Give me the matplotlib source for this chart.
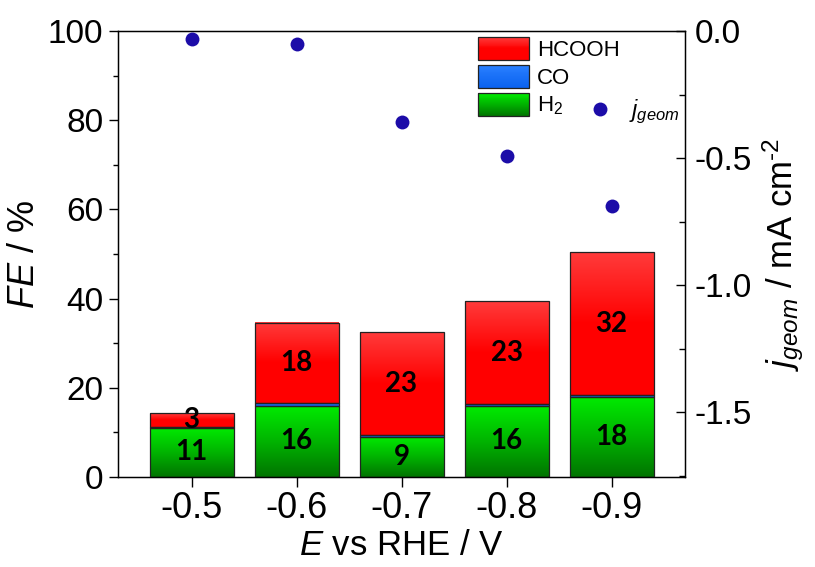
import numpy as np
import matplotlib
matplotlib.use('Agg')
import matplotlib.pyplot as plt
from matplotlib.patches import Rectangle
from matplotlib.lines import Line2D
from matplotlib.legend_handler import HandlerBase
from matplotlib.colors import LinearSegmentedColormap
from matplotlib.ticker import MultipleLocator

# ---------------- data ----------------
potentials = ['-0.5', '-0.6', '-0.7', '-0.8', '-0.9']
fe_h2 = [11, 16, 9, 16, 18]
fe_co = [0.3, 0.6, 0.4, 0.4, 0.4]
fe_hcooh = [3.1, 18, 23, 23, 32]
label_h2 = ['11', '16', '9', '16', '18']
label_hcooh = ['3', '18', '23', '23', '32']
j_geom = [-0.03, -0.05, -0.36, -0.49, -0.69]

# ---------------- style ----------------
plt.rcParams['font.family'] = ['Liberation Sans', 'DejaVu Sans']
plt.rcParams['mathtext.fontset'] = 'custom'
plt.rcParams['mathtext.rm'] = 'Liberation Sans'
plt.rcParams['mathtext.it'] = 'Liberation Sans:italic'
plt.rcParams['mathtext.bf'] = 'Liberation Sans:bold'
plt.rcParams['axes.unicode_minus'] = False

red_cmap = LinearSegmentedColormap.from_list('red', ['#ff0000', '#ff0000', '#ff3b3b'])
green_cmap = LinearSegmentedColormap.from_list('green', ['#007400', '#00b400', '#00ec00'])
blue_cmap = LinearSegmentedColormap.from_list('blue', ['#0a62f0', '#2a80ff'])
edge = '#222222'

fig = plt.figure(figsize=(8.15, 5.67), dpi=100)
ax = fig.add_axes([118 / 815, 1 - 477 / 567, (685 - 118) / 815, (477 - 31) / 567])
x = np.arange(len(potentials))
w = 0.8

bottom_co = np.array(fe_h2, dtype=float)
bottom_hc = bottom_co + np.array(fe_co)

bars_h2 = ax.bar(x, fe_h2, w, facecolor='none', edgecolor=edge, linewidth=0.9, zorder=3)
bars_co = ax.bar(x, fe_co, w, bottom=bottom_co, facecolor='none', edgecolor=edge, linewidth=0.9, zorder=3)
bars_hc = ax.bar(x, fe_hcooh, w, bottom=bottom_hc, facecolor='none', edgecolor=edge, linewidth=0.9, zorder=3)

grad = np.linspace(0, 1, 256).reshape(-1, 1)


def grad_fill(patch, cmap):
    x0, y0 = patch.get_x(), patch.get_y()
    pw, ph = patch.get_width(), patch.get_height()
    ax.imshow(grad, cmap=cmap, origin='lower', aspect='auto',
              extent=[x0, x0 + pw, y0, y0 + ph], zorder=2, interpolation='bilinear')


for p in bars_h2:
    grad_fill(p, green_cmap)
for p in bars_co:
    grad_fill(p, blue_cmap)
for p in bars_hc:
    grad_fill(p, red_cmap)

lab_font = dict(family=['Lato', 'DejaVu Sans'], fontweight='bold', fontsize=20, color='black')
for xi, b, h, t in zip(x, [0] * len(x), fe_h2, label_h2):
    ax.text(xi, b + h / 2, t, ha='center', va='center', zorder=4, **lab_font)
for xi, b, h, t in zip(x, bottom_hc, fe_hcooh, label_hcooh):
    ax.text(xi, b + h / 2, t, ha='center', va='center', zorder=4, **lab_font)

ax.set_xlim(-0.7, 4.7)
ax.set_ylim(0, 100)
ax.set_xticks(x)
ax.set_xticklabels(potentials)
ax.yaxis.set_major_locator(MultipleLocator(20))
ax.yaxis.set_minor_locator(MultipleLocator(10))
ax.tick_params(axis='x', direction='out', length=7, width=1, labelsize=26, pad=3)
ax.tick_params(axis='y', which='major', direction='out', length=6.5, width=1, labelsize=24, pad=4)
ax.tick_params(axis='y', which='minor', direction='out', length=3.5, width=1)
for s in ax.spines.values():
    s.set_linewidth(1.0)

ax.set_xlabel(r'$E$ vs RHE / V', fontsize=25, labelpad=2)
ax.set_ylabel(r'$FE$ / %', fontsize=26, labelpad=4)

# ---------------- right axis ----------------
ax2 = ax.twinx()
ax2.plot(x, j_geom, 'o', ms=10, color='#1c0ca8', markeredgewidth=0, zorder=5)
ax2.set_ylim(-1.755, 0)
ax2.yaxis.set_major_locator(MultipleLocator(0.5))
ax2.yaxis.set_minor_locator(MultipleLocator(0.25))
ax2.tick_params(axis='y', which='major', direction='in', length=6.5, width=1, labelsize=24, pad=7)
ax2.tick_params(axis='y', which='minor', direction='in', length=4, width=1)
ax2.set_ylabel(r'$j_{geom}$ / mA cm$^{\text{-}2}$', fontsize=25, labelpad=6)


# ---------------- legends ----------------
class GradientHandler(HandlerBase):
    def __init__(self, cmap):
        super().__init__()
        self.cmap = cmap

    def create_artists(self, legend, orig_handle, xdescent, ydescent, width, height, fontsize, trans):
        n = 24
        arts = []
        for i in range(n):
            f = (i + 0.5) / n
            r = Rectangle((-xdescent, -ydescent + i * height / n), width, height / n * 1.05,
                          facecolor=self.cmap(f), edgecolor='none', transform=trans)
            arts.append(r)
        arts.append(Rectangle((-xdescent, -ydescent), width, height, facecolor='none',
                              edgecolor=edge, linewidth=0.9, transform=trans))
        return arts


h_hc = Rectangle((0, 0), 1, 1)
h_co = Rectangle((0, 0), 1, 1)
h_h2 = Rectangle((0, 0), 1, 1)
leg = ax2.legend([h_hc, h_co, h_h2], ['HCOOH', 'CO', r'H$_2$'],
                 handler_map={h_hc: GradientHandler(red_cmap), h_co: GradientHandler(blue_cmap),
                              h_h2: GradientHandler(green_cmap)},
                 loc='upper left', bbox_to_anchor=(478 / 815, 1 - 37 / 567),
                 bbox_transform=fig.transFigure, frameon=False, fontsize=16,
                 handlelength=2.3, handleheight=1.2, labelspacing=0.18, handletextpad=0.35,
                 borderpad=0, borderaxespad=0)
ax2.add_artist(leg)

h_j = Line2D([], [], linestyle='none', marker='o', ms=10, color='#1c0ca8', markeredgewidth=0)
ax2.legend([h_j], [r'$j_{geom}$'], loc='center left', bbox_to_anchor=(588 / 815, 1 - 112 / 567),
           bbox_transform=fig.transFigure, frameon=False, fontsize=17,
           handlelength=1.0, handletextpad=0.75, borderpad=0, borderaxespad=0)

fig.savefig('out.png', dpi=100)
